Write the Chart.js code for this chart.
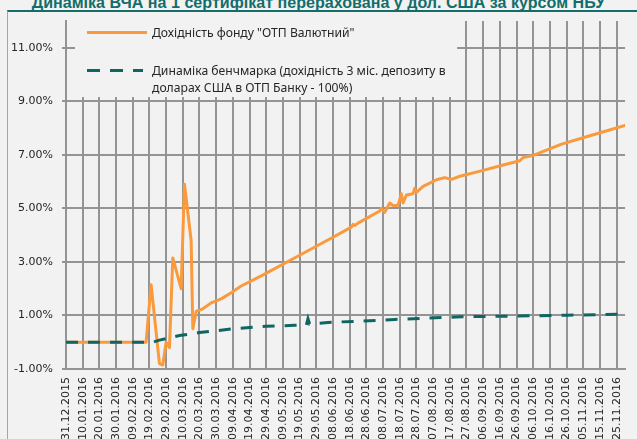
<!DOCTYPE html>
<html><head><meta charset="utf-8">
<script src="https://cdn.jsdelivr.net/npm/chart.js@4"></script>
<style>
html,body{margin:0;padding:0;background:#f2f2f2;width:637px;height:439px;overflow:hidden;position:relative;}
#frame{position:absolute;left:7px;top:10px;width:640px;height:440px;border-left:1px solid #a6a6a6;border-top:2px solid #136d6b;}
#title{position:absolute;left:0;width:637px;text-align:center;font-family:"Liberation Sans",Arial,sans-serif;font-weight:bold;color:#136d6b;white-space:nowrap;}
canvas{position:absolute;left:0;top:0;}
</style></head>
<body>
<div id="title">Динаміка ВЧА на 1 сертифікат перерахована у дол. США за курсом НБУ</div>
<div id="frame"></div>
<canvas id="c" width="637" height="439"></canvas>
<script>
// ---- data ----
const fundLabel = 'Дохідність фонду "ОТП Валютний"';
const benchLabelLines = ['Динаміка бенчмарка (дохідність 3 міс. депозиту в', 'доларах США в ОТП Банку - 100%)'];

// days since 31.12.2015
const fundDays = [0, 48, 51, 56, 58, 60, 62, 64, 69, 71, 75, 76, 78, 82, 87, 93, 99, 105, 117, 140, 160, 171, 172, 173, 175, 188, 189, 191, 194, 196, 199, 201, 202, 204, 208, 209, 210, 214, 222, 227, 231, 236, 250, 262, 272, 274, 280, 297, 316, 335];
const fundValues = [0, 0, 2.15, -0.8, -0.85, 0.0, -0.2, 3.15, 2.0, 5.9, 3.8, 0.5, 1.15, 1.25, 1.47, 1.62, 1.85, 2.1, 2.48, 3.25, 3.92, 4.3, 4.4, 4.36, 4.45, 4.9, 5.0, 4.85, 5.2, 5.1, 5.12, 5.55, 5.2, 5.5, 5.55, 5.75, 5.6, 5.82, 6.07, 6.15, 6.08, 6.2, 6.42, 6.62, 6.78, 6.9, 6.98, 7.4, 7.75, 8.1];

const benchDays = [0, 52, 56, 68, 80, 100, 120, 137, 144, 145, 146, 157, 177, 197, 217, 237, 270, 300, 335];
const benchValues = [0, 0, 0.08, 0.25, 0.36, 0.5, 0.6, 0.63, 0.64, 0.88, 0.68, 0.74, 0.79, 0.85, 0.9, 0.95, 0.98, 1.01, 1.05];

const xTickDays = [0,10,20,30,40,50,60,70,80,90,100,110,120,130,140,150,160,170,180,190,200,210,220,230,240,250,260,270,280,290,300,310,320,330];
const xTickLabels = ['31.12.2015','10.01.2016','20.01.2016','30.01.2016','09.02.2016','19.02.2016','29.02.2016','10.03.2016','20.03.2016','30.03.2016','09.04.2016','19.04.2016','29.04.2016','09.05.2016','19.05.2016','29.05.2016','08.06.2016','18.06.2016','28.06.2016','08.07.2016','18.07.2016','28.07.2016','07.08.2016','17.08.2016','27.08.2016','06.09.2016','16.09.2016','26.09.2016','06.10.2016','16.10.2016','26.10.2016','05.11.2016','15.11.2016','25.11.2016'];
const yTicks = [-1, 1, 3, 5, 7, 9, 11];

// ---- styles ----
const ORANGE = '#fa9a3c';
const TEAL = '#0e6562';
const GRID = '#949494';
const BG = '#f2f2f2';

// title fit
(function(){
  const t = document.getElementById('title');
  const m = document.createElement('canvas').getContext('2d');
  m.font = 'bold 100px "Liberation Sans"';
  const w = m.measureText(t.textContent).width;
  const size = 100 * 574 / w;
  t.style.fontSize = size + 'px';
  t.style.lineHeight = size + 'px';
  t.style.top = (7.5 - 0.8465 * size) + 'px';
})();

const legendPlugin = {
  id: 'boxLegend',
  beforeDatasetsDraw(chart) {
    const ctx = chart.ctx, a = chart.chartArea;
    ctx.save();
    ctx.fillStyle = BG;
    ctx.fillRect(75, a.top - 2, 457 - 75, 97 - a.top + 2);
    ctx.font = '100px "Noto Sans"';
    const w = ctx.measureText(benchLabelLines[0]).width;
    const fs = 100 * 294 / w;
    ctx.font = fs + 'px "Noto Sans"';
    ctx.fillStyle = '#262626';
    ctx.textBaseline = 'middle';
    ctx.textAlign = 'left';
    ctx.lineWidth = 3;
    ctx.strokeStyle = ORANGE;
    ctx.beginPath(); ctx.moveTo(87, 32.5); ctx.lineTo(147, 32.5); ctx.stroke();
    ctx.fillText(fundLabel, 152, 33.5);
    ctx.strokeStyle = TEAL;
    ctx.setLineDash([13, 10]);
    ctx.beginPath(); ctx.moveTo(87, 70.5); ctx.lineTo(143, 70.5); ctx.stroke();
    ctx.setLineDash([]);
    ctx.fillText(benchLabelLines[0], 152, 71.5);
    ctx.fillText(benchLabelLines[1], 152, 89);
    ctx.restore();
  }
};

const toPts = (xs, ys) => xs.map((x, i) => ({x: x, y: ys[i]}));

new Chart(document.getElementById('c'), {
  type: 'line',
  data: {
    datasets: [
      {label: fundLabel, data: toPts(fundDays, fundValues), borderColor: ORANGE, borderWidth: 3,
       pointRadius: 0, tension: 0, borderJoinStyle: 'round', borderCapStyle: 'round', order: 2},
      {label: benchLabelLines.join(' '), data: toPts(benchDays, benchValues), borderColor: TEAL, borderWidth: 3,
       borderDash: [12, 10], pointRadius: 0, tension: 0, order: 1}
    ]
  },
  options: {
    responsive: false, animation: false, devicePixelRatio: 1,
    layout: {padding: {top: 21, right: 12, left: 0, bottom: 0}},
    plugins: {legend: {display: false}, tooltip: {enabled: false}, title: {display: false}},
    scales: {
      x: {
        type: 'linear', min: 0, max: 335,
        afterBuildTicks: s => { s.ticks = xTickDays.map(v => ({value: v})); },
        afterFit: s => { s.height = 70; s.paddingLeft = 0; s.paddingRight = 0; },
        grid: {color: GRID, lineWidth: 2, drawTicks: false},
        border: {color: GRID, width: 2},
        ticks: {autoSkip: false, minRotation: 90, maxRotation: 90, padding: 8, color: '#262626',
          font: {family: 'DejaVu Sans', size: 11},
          callback: (v, i) => xTickLabels[i]}
      },
      y: {
        min: -1, max: 12,
        afterBuildTicks: s => { s.ticks = yTicks.map(v => ({value: v})); },
        afterFit: s => { s.width = 66; s.paddingTop = 0; s.paddingBottom = 0; },
        grid: {color: GRID, lineWidth: 2, tickLength: 4},
        border: {color: GRID, width: 2},
        ticks: {padding: 9, color: '#262626', font: {family: 'DejaVu Sans', size: 11},
          callback: v => v.toFixed(2) + '%'}
      }
    }
  },
  plugins: [legendPlugin]
});
</script>
</body></html>
